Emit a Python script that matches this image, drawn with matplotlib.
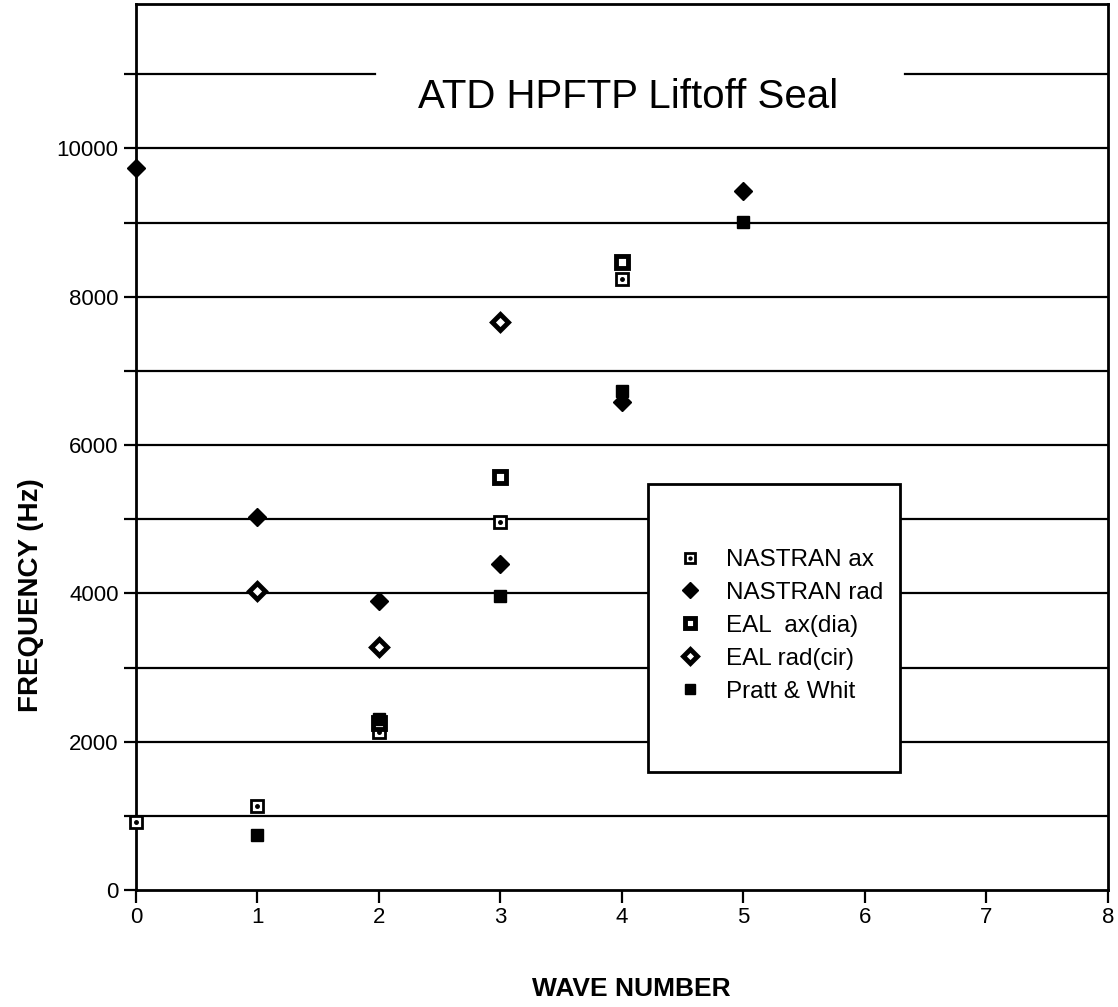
import matplotlib
matplotlib.use("Agg")
import matplotlib.pyplot as plt
from matplotlib.patches import Rectangle
from matplotlib.legend_handler import HandlerTuple

plt.rcParams['font.family'] = ['Liberation Sans', 'DejaVu Sans']

# data (wave number, frequency Hz)
nastran_ax_x = [0, 1, 2, 3, 4]
nastran_ax_y = [920, 1135, 2130, 4960, 8240]
nastran_rad_x = [0, 1, 2, 3, 4, 5]
nastran_rad_y = [9740, 5030, 3900, 4390, 6580, 9420]
eal_ax_x = [2, 3, 4]
eal_ax_y = [2250, 5570, 8470]
eal_rad_x = [1, 2, 3]
eal_rad_y = [4030, 3280, 7660]
pratt_x = [1, 2, 3, 4, 5]
pratt_y = [745, 2300, 3960, 6730, 9010]

y_tick_labels = ['0', '2000', '4000', '6000', '8000', '10000']
y_ticks = [0, 2000, 4000, 6000, 8000, 10000]
grid_levels = [1000, 2000, 3000, 4000, 5000, 6000, 7000, 8000, 9000, 10000]

fig = plt.figure(figsize=(11.18, 10.07), dpi=100)
ax = fig.add_axes([0.1216, 0.1162, 0.8694, 0.880])

# horizontal rules (11000 one is broken by the title)
ax.hlines(grid_levels, 0, 8, colors='black', lw=1.6, zorder=1)
ax.axhline(11000, xmin=0, xmax=0.246, color='black', lw=1.6, zorder=1)
ax.axhline(11000, xmin=0.791, xmax=1, color='black', lw=1.6, zorder=1)

ms = 9
h1a, = ax.plot(nastran_ax_x, nastran_ax_y, 's', ms=ms, mfc='white', mec='black', mew=2, ls='none', zorder=3, clip_on=False)
h1b, = ax.plot(nastran_ax_x, nastran_ax_y, 'o', ms=2.5, mfc='black', mec='black', ls='none', zorder=4, clip_on=False)
h2, = ax.plot(nastran_rad_x, nastran_rad_y, 'D', ms=9, mfc='black', mec='black', ls='none', zorder=3, clip_on=False)
h3, = ax.plot(eal_ax_x, eal_ax_y, 's', ms=ms, mfc='white', mec='black', mew=3.5, ls='none', zorder=3)
h4, = ax.plot(eal_rad_x, eal_rad_y, 'D', ms=8.5, mfc='white', mec='black', mew=3.5, ls='none', zorder=3)
h5, = ax.plot(pratt_x, pratt_y, 's', ms=ms, mfc='black', mec='black', ls='none', zorder=3)

ax.set_xlim(0, 8)
ax.set_ylim(0, 11950)
ax.set_xticks(range(0, 9))
ax.set_yticks(y_ticks)
ax.set_yticklabels(y_tick_labels)
ax.set_yticks(grid_levels[::2] + [11000], minor=True)
ax.tick_params(axis='both', which='both', direction='out', length=9, width=1.6, labelsize=16)
ax.tick_params(axis='y', which='minor', length=9)
for s in ax.spines.values():
    s.set_linewidth(2)
    s.set_color('black')

ax.text(4.05, 10700, 'ATD HPFTP Liftoff Seal', fontsize=29, ha='center', va='center', zorder=2)

fig.text(0.565, 0.018, 'WAVE NUMBER', fontsize=19, fontweight='bold', ha='center', va='center')
fig.text(0.028, 0.409, 'FREQUENCY (Hz)', fontsize=20, fontweight='bold', rotation=90, ha='center', va='center')

# legend box
ax.add_patch(Rectangle((0.527, 0.133), 0.259, 0.325, transform=ax.transAxes,
                       facecolor='white', edgecolor='black', lw=2, zorder=5))
leg = ax.legend([(h1a, h1b), h2, h3, h4, h5],
                ['NASTRAN ax', 'NASTRAN rad', 'EAL  ax(dia)', 'EAL rad(cir)', 'Pratt & Whit'],
                handler_map={tuple: HandlerTuple(ndivide=1, pad=0)},
                loc='center', bbox_to_anchor=(0.663, 0.298), frameon=False,
                fontsize=17.5, labelspacing=0.45, handlelength=1.0, handletextpad=1.0,
                markerscale=0.85)
leg.set_zorder(6)

fig.savefig('out.png', dpi=100)
